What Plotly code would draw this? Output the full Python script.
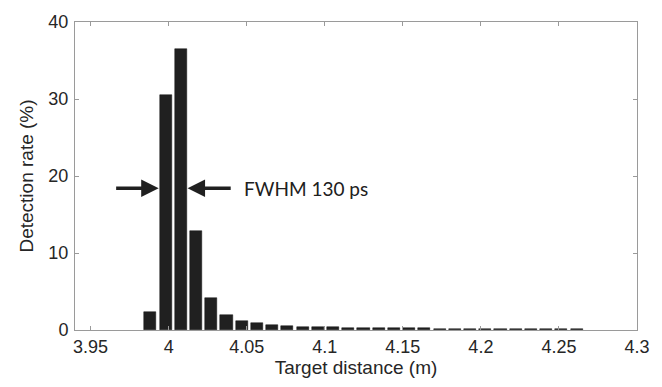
import plotly.graph_objects as go

# Histogram bins (target distance, m) and detection rate (%)
bin_start = 3.9883
bin_step = 0.00975
rates = [2.3, 30.5, 36.5, 12.9, 4.2, 2.0, 1.2, 0.85, 0.65, 0.55, 0.45, 0.38,
         0.33, 0.3, 0.28, 0.26, 0.24, 0.22, 0.2, 0.19, 0.18, 0.17, 0.16, 0.15,
         0.14, 0.13, 0.12, 0.11, 0.1]
distances = [bin_start + i * bin_step for i in range(len(rates))]

x_ticks = [3.95, 4.0, 4.05, 4.1, 4.15, 4.2, 4.25, 4.3]
x_tick_labels = ["3.95", "4", "4.05", "4.1", "4.15", "4.2", "4.25", "4.3"]
y_ticks = [0, 10, 20, 30, 40]

fwhm_label = "FWHM 130 ps"
arrow_y = 18.4
left_arrow = (3.9654, 3.9936)   # tail, tip
right_arrow = (4.0407, 4.0121)  # tail, tip
label_x = 4.0470

FONT = "Arial"
TXT = "#262626"

fig = go.Figure()
fig.add_trace(go.Bar(
    x=distances, y=rates, width=bin_step * 0.8,
    marker=dict(color="#202020", line=dict(color="#111111", width=0.5)),
))

axis_common = dict(
    showgrid=False, zeroline=False, showline=True, linecolor="#9a9a9a",
    linewidth=1, mirror="ticks", ticks="inside", ticklen=4, tickcolor="#9a9a9a",
    tickfont=dict(family=FONT, size=18, color=TXT),
)

fig.update_layout(
    width=662, height=387,
    margin=dict(l=75, r=21, t=15, b=57),
    paper_bgcolor="white", plot_bgcolor="white",
    showlegend=False,
    bargap=0,
    xaxis=dict(range=[3.94, 4.3], tickvals=x_ticks, ticktext=x_tick_labels,
               ticklabelstandoff=0,
               title=dict(text="Target distance (m)", standoff=3,
                          font=dict(family=FONT, size=19, color=TXT)),
               **axis_common),
    yaxis=dict(range=[0, 40], tickvals=y_ticks, ticklabelstandoff=2,
               title=dict(text="Detection rate (%)", standoff=9,
                          font=dict(family=FONT, size=19, color=TXT)),
               **axis_common),
)

for tail, tip in (left_arrow, right_arrow):
    fig.add_annotation(
        x=tip, y=arrow_y, ax=tail, ay=arrow_y, xref="x", yref="y",
        axref="x", ayref="y", text="", showarrow=True,
        arrowhead=2, arrowsize=1.0, arrowwidth=3.5, arrowcolor="#202020",
    )

fig.add_annotation(
    x=label_x, y=arrow_y, xref="x", yref="y", text=fwhm_label, showarrow=False,
    xanchor="left", yanchor="middle",
    font=dict(family="Lato", size=19, color="#202020"),
)

fig.write_html("out.html")
